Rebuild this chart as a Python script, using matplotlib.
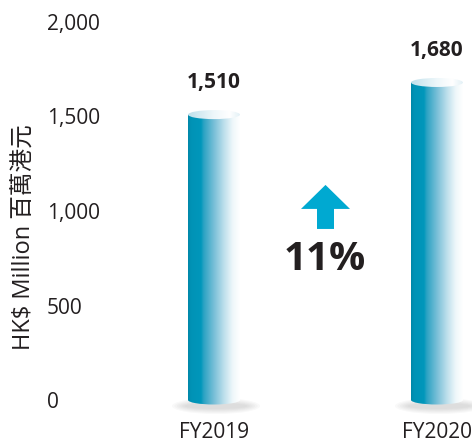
import numpy as np
import matplotlib
matplotlib.use('Agg')
import matplotlib.pyplot as plt
from matplotlib.colors import LinearSegmentedColormap
from matplotlib.patches import Rectangle, Ellipse, Polygon

years = ['FY2019', 'FY2020']
values = [1510, 1680]
yticks = [0, 500, 1000, 1500, 2000]
ytick_labels = ['0', '500', '1,000', '1,500', '2,000']

plt.rcParams['font.family'] = ['Open Sans', 'Noto Sans CJK TC', 'DejaVu Sans']
TXT = '#231f20'

W, H = 472, 443
fig = plt.figure(figsize=(W / 100, H / 100), dpi=100)
ax = fig.add_axes([0, 0, 1, 1])
ax.set_facecolor('white')

# pixel mapping: value 0 -> 400px from top, 2000 -> 22px; cat 0 -> 214px, cat 1 -> 437px
ys = 2000 / 378
ax.set_ylim(-43 * ys, 2000 + 22 * ys)
xs = 1 / 223
ax.set_xlim(-214 * xs, (W - 214) * xs)

body_cmap = LinearSegmentedColormap.from_list('body', [
    (0.0, '#0087a9'), (0.06, '#0093b6'), (0.25, '#0097bb'), (0.3, '#2aa2c3'),
    (0.5, '#78bfd7'), (0.7, '#bfe0ec'), (0.86, '#eef7fa'), (1.0, '#ffffff')])
top_cmap = LinearSegmentedColormap.from_list('top', [
    (0.0, '#bfe0eb'), (0.5, '#eef7fa'), (0.8, '#ffffff'), (1.0, '#e3f1f6')])
grad = np.linspace(0, 1, 256).reshape(1, -1)

hw = 26 * xs
eh = 9 * ys
for i, v in enumerate(values):
    # soft shadow
    for k in range(6):
        sh = Ellipse((i + 2 * xs, -6 * ys), 2 * hw + (36 - 5 * k) * xs, (16 - 2 * k) * ys,
                     facecolor='#8a8a8a', edgecolor='none', alpha=0.05, zorder=1)
        ax.add_patch(sh)
    ext = [i - hw, i + hw, -eh, v]
    rect = Rectangle((i - hw, 0), 2 * hw, v, transform=ax.transData)
    im = ax.imshow(grad, cmap=body_cmap, extent=ext, aspect='auto', zorder=2,
                   interpolation='bilinear')
    im.set_clip_path(rect)
    bot = Ellipse((i, 0), 2 * hw, eh, transform=ax.transData)
    im2 = ax.imshow(grad, cmap=body_cmap, extent=ext, aspect='auto', zorder=2,
                    interpolation='bilinear')
    im2.set_clip_path(bot)
    top = Ellipse((i, v), 2 * hw, eh, transform=ax.transData)
    im3 = ax.imshow(grad, cmap=top_cmap, extent=[i - hw, i + hw, v - eh, v + eh],
                    aspect='auto', zorder=3, interpolation='bilinear')
    im3.set_clip_path(top)
    ax.text(i, v + 32 * ys, f'{v:,}', ha='center', va='center', fontsize=15,
            fontweight='bold', color=TXT, zorder=4)

# growth arrow
xm = 0.5
arrow = Polygon([(xm - 24.5 * xs, 1011), (xm, 1138), (xm + 24.5 * xs, 1011),
                 (xm + 8.5 * xs, 1011), (xm + 8.5 * xs, 905),
                 (xm - 8.5 * xs, 905), (xm - 8.5 * xs, 1011)],
                closed=True, facecolor='#00a9d1', edgecolor='none', zorder=4)
ax.add_patch(arrow)
growth = (values[1] / values[0] - 1) * 100
ax.text(xm - 1 * xs, 745, f'{growth:.0f}%', ha='center', va='center', fontsize=29,
        fontweight='bold', color=TXT, zorder=4)

ax.set_yticks(yticks)
ax.set_yticklabels(ytick_labels, fontsize=15, color=TXT, ha='left')
ax.tick_params(axis='y', length=0, pad=-47 * 0.72)
ax.set_xticks(range(len(years)))
ax.set_xticklabels(years, fontsize=15, color=TXT)
ax.tick_params(axis='x', length=0, pad=-21 * 0.72)
for s in ax.spines.values():
    s.set_visible(False)

ax.set_ylabel('HK$ Million 百萬港元', fontsize=17, color=TXT)
ax.yaxis.label.set_va('center')
ax.yaxis.set_label_coords(25 / W, (H - 237) / H)

fig.savefig('out.png', dpi=100)
